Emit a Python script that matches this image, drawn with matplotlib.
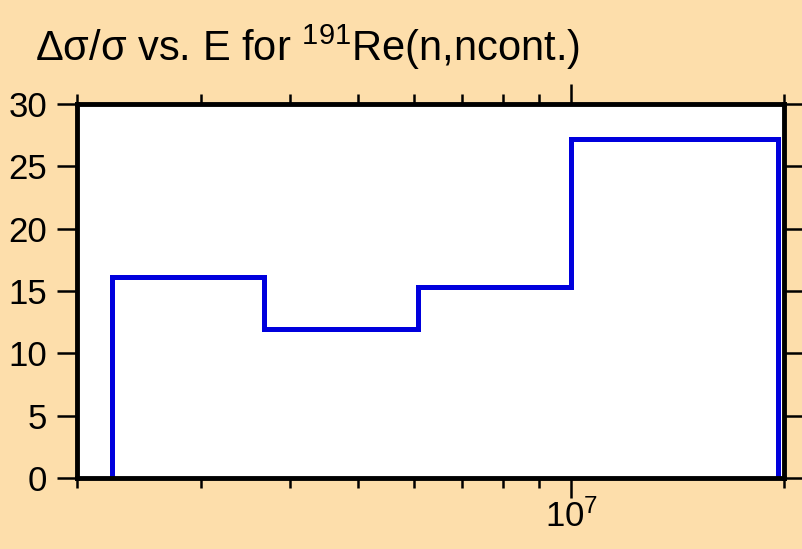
import numpy as np
import matplotlib
matplotlib.use('Agg')
import matplotlib.pyplot as plt
from matplotlib.ticker import LogLocator, NullFormatter, FixedLocator

plt.rcParams['font.family'] = ['Liberation Sans', 'DejaVu Sans']
plt.rcParams['mathtext.fontset'] = 'custom'
plt.rcParams['mathtext.rm'] = 'Liberation Sans'
plt.rcParams['mathtext.it'] = 'Liberation Sans'

# energy bin edges (eV) and relative uncertainty per bin (%)
edges = [2.24e6, 3.68e6, 6.07e6, 1.0e7, 1.96e7]
rel_unc = [16.1, 12.0, 15.3, 27.2]

bg = '#fddeab'

fig = plt.figure(figsize=(8.02, 5.49), dpi=100, facecolor=bg)
ax = fig.add_axes([0.096, 0.129, 0.8815, 0.6815])
ax.set_facecolor('white')

ax.stairs(rel_unc, edges, baseline=0, color='#0000dd', linewidth=3.6)

ax.set_xscale('log')
ax.set_xlim(2e6, 2e7)
ax.set_ylim(0, 30)

ax.xaxis.set_major_locator(FixedLocator([1e7]))
ax.xaxis.set_minor_locator(LogLocator(base=10, subs=np.arange(2, 10)))
ax.xaxis.set_minor_formatter(NullFormatter())
ax.set_xticks([1e7])
ax.set_xticklabels([r'$10^{7}$'])
ax.set_yticks(np.arange(0, 31, 5))

for s in ax.spines.values():
    s.set_linewidth(3.5)

ax.tick_params(axis='both', which='major', direction='out', length=14.5, width=1.8,
               labelsize=25, top=True, right=True, pad=1)
ax.tick_params(axis='x', which='minor', direction='out', length=7.5, width=1.8,
               top=True, bottom=True)
ax.tick_params(axis='y', which='major', pad=7)

fig.text(0.044, 0.888, u'\u0394\u03c3/\u03c3 vs. E for $^{191}$Re(n,ncont.)',
         fontsize=30, ha='left', va='baseline')

fig.savefig('out.png', dpi=100, facecolor=bg)
